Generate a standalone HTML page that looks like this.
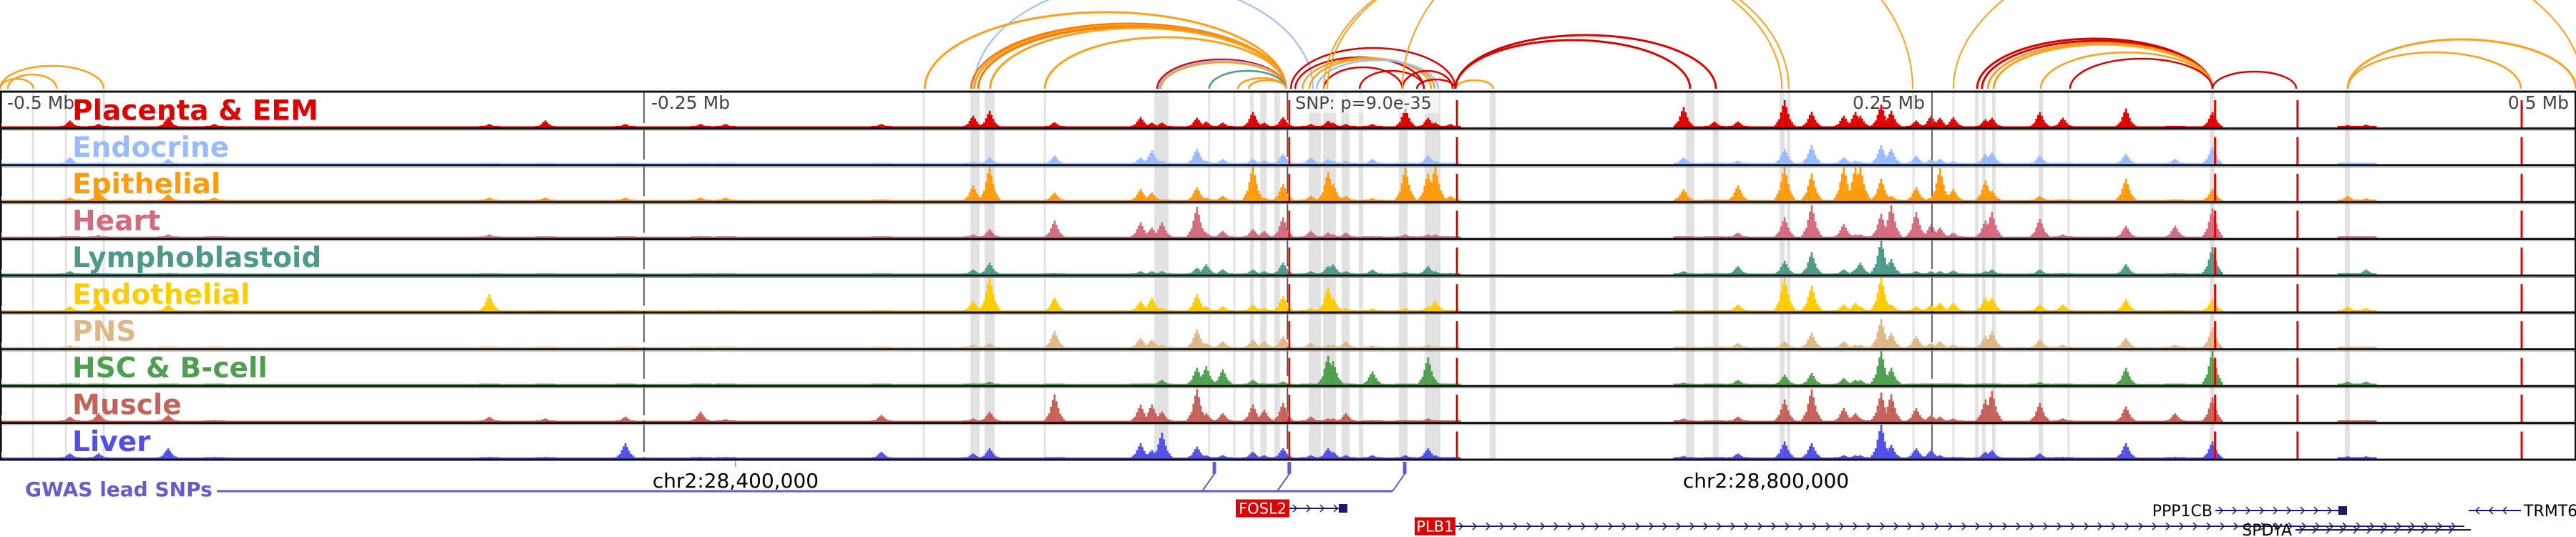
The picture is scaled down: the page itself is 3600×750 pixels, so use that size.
<!DOCTYPE html>
<html><head><meta charset="utf-8"><style>
html,body{margin:0;padding:0;background:#fff;width:3600px;height:750px;overflow:hidden}
svg text{font-family:"DejaVu Sans","Liberation Sans",sans-serif}
</style></head><body>
<svg id="fig" width="3600" height="750" viewBox="0 0 3600 750" xmlns="http://www.w3.org/2000/svg">
<g id="arcs"></g>
<g id="bands"></g>
<g id="tracks"></g>
<g id="frame"></g>
<g id="labels"></g>
<g id="bottom"></g>
</svg>
<script>
// ---- data ----
const trackNames = ["Placenta & EEM","Endocrine","Epithelial","Heart","Lymphoblastoid","Endothelial","PNS","HSC & B-cell","Muscle","Liver"];
const trackColors = ["#e00000","#99bbff","#ff9c0c","#d46a7e","#4e9a8a","#ffcc00","#deb887","#4f9f4f","#c4625a","#5050e8"];
const peakPos = [-472.8,-461.7,-434.7,-416.7,-310,-288.3,-257.2,-228,-218.3,-157.8,-122.2,-115.8,-90.6,-57.2,-52.8,-48.9,-35.3,-31.7,-25.3,-13.6,-9.2,-1.9,8.9,15.6,17.5,22.5,32.8,45.6,54.4,57.2,63.1,153.6,165.6,174.7,192.8,203.3,215.8,220.3,222.2,230.3,234.2,243.9,249.7,253.1,258.3,270.8,273.3,291.9,300.8,325.3,344.4,358.9,411.4,418.6];
const placenta = [2,1,3,1,1,2,1,1,1,1, 3.4,4.8,1.5,3,1.4,1.4,2.8,1.7,1.4,4.5,1.4,3,1,1.9,1.4,1,1,5.5,2.8,1.4,1, 5.9,1.7,1.7,7.9,4.5,3.4,4.5,3.4,6.6,4.8,2,3.4,2.8,3,2.4,2.8,4.5,2.8,5.5,0.3,4.5,0.7,0.8];
const endocrine = [2,0.5,1.5,0.5,0.5,0.3,0.5,0.3,0.3,0.3, 0.7,2,2.5,2,4,1,4.5,1,1.5,1.5,1,3,2,1.5,1,1,1.5,0.5,2.5,1,0.3, 2,0.5,1,4.5,5.5,2,1,0.7,5.5,4.5,2.5,1.5,1.5,0.8,3,3.5,2.5,0.5,3,1.5,5,0.3,0.3];
const epithelial = [1,3,2,1,1,1,1,1,1,0.5, 4.5,10,2.5,3.5,2.5,0.5,4,1,1.5,10,1,5,1.5,8.5,5,1.5,0.8,9.5,8,10,1.5, 3.5,0.5,4.5,10,8,10,10,10,6.5,1.5,4,1,9.5,3.5,6,3,1.5,0.5,6.5,0.5,3.5,1.5,0.8];
const heart = [0.5,0.8,1,0.5,1,0.5,0.5,0.5,0.5,0.3, 1,2.5,5,4.5,3,4.5,9,1.5,2,2.5,2,6,2,1.5,1,1.5,0.5,1,1,1,0.3, 0.5,0.3,1.5,6,9.5,4,1,1,7,9.5,7.5,4,3,1.5,5,7.5,5.5,1,3.5,3.5,8.5,0.5,0.3];
const lympho = [1,0.5,0.5,0.3,0.3,0.3,0.3,0.3,0.3,0.3, 1.5,3.5,0.5,1,1,1,2,3,1.5,1.5,1,3.5,1,2.5,3,1,1.5,0.8,2.5,1,0.5, 1,0.3,2.5,4,6.5,1.5,1.5,3.5,10,4.5,1,1,1,1.2,1,1.5,1.5,0.5,3,0.5,8,0.5,1.5];
const endothelial = [1.5,3,2,0.5,5,0.5,0.5,0.5,0.5,0.5, 3,10,4,3,4,1,5,1.5,1.5,2,1,4.5,1,7,4,1,0.8,1,1.5,3,0.5, 0.5,0.5,2,10,7.5,2,2.5,1.5,10,2,1.5,2,2.5,2.5,4,4,2,2,3.5,0.5,3.5,1.5,1];
const pns = [0.8,0.5,0.5,0.3,0.5,0.3,0.3,0.3,0.3,0.3, 1,1.5,5,3,2.5,1,5.5,1.5,2,2.5,2,3.5,1.5,1,1,2,0.8,0.3,1,0.5,0.2, 0.5,0.3,1.5,2,4.5,2,1,1,8.5,4.5,3.5,1.5,2,1,3.5,5,2.5,1,3,1,6,0.5,0.5];
const hsc = [0.5,0.3,0.3,0.3,0.3,0.3,0.3,0.3,0.3,0.3, 0.5,1,0.2,0.2,0.3,1.5,5,5.5,4.5,1.5,0.5,1,0.5,8.5,7,0.5,4,0.3,8,1,0.3, 0.7,0.2,1.5,3,3.5,2,1.5,1.5,10,5,0.3,0.3,0.3,0.3,0.3,0.3,0.8,0.2,5,0.2,10,1,1];
const muscle = [1.5,2.5,2,0.5,1.5,1,1.5,3,0.8,2, 1,3,8,5,5,3,9.5,2.5,2.5,5,3.5,5.5,1.5,1,1,2.5,0.5,0.5,1,0.5,0.2, 1,0.3,1.5,6.5,9.5,4,2.5,1,8.5,8,4,2,1.5,1,6.5,9,5.5,1,4.5,2.5,7,0.5,0.5];
const liver = [1.5,1.5,3,0.5,0.5,0.5,4.5,0.5,0.5,2, 1.5,3,0.3,4.5,2.5,7.5,3.5,1,1,2,1,3,1,3,2,1,1,1,3,1,0.3, 0.8,0.3,1.5,5,4.5,1,1,1,10,4,3,2.5,1,0.5,2,2.5,1.5,0.5,4.5,0.5,5,0.7,0.7];
const trackValues = [placenta,endocrine,epithelial,heart,lympho,endothelial,pns,hsc,muscle,liver];
const bandStart = [-487.6,-474.8,-460.1,-141.8,-123.3,-117.8,-94.8,-51.9,-31.0,-21.2,-14.7,-10.8,-5.3,8.1,13.6,20.8,27.5,43.1,53.1,78.3,154.4,165,190.8,193.6,242.4,257.9,266.7,269.4,273.3,291.4,302.6,357.8,410.3];
const bandEnd   = [-486.8,-474.0,-459.3,-141.0,-119.7,-113.9,-94.0,-46.4,-30.2,-20.4,-13.3,-8.3,-3.1,12.8,18.6,23.9,29.2,46.4,59.2,80.6,157.8,167.2,192.8,195,243.2,258.7,268.1,270.8,274.7,293.1,303.4,359.7,412.2];
const arcStart = [-122,-500,-500,-497,-141,-123,-121.7,-120.3,-115.6,-94.4,-50.8,-50,-49.4,-30.6,-19.4,-15.3,1.1,2.8,5.6,8.3,11.1,13.9,27.8,44.4,50,65,65,65,13.9,15.3,44.4,258.3,267.5,269.4,271.7,273.9,292.2,303.6,358.9,411.4,411.4];
const arcEnd   = [9.7,-459.7,-487,-478,-0.8,-0.8,-0.8,-0.8,-0.8,-0.8,-0.8,-0.8,-0.8,-0.8,-0.8,-0.8,65,52.8,55.6,56.9,58.3,44.4,52.8,63.9,65,79.7,156.1,166.1,191.7,194.4,242.5,502.8,358.9,358.9,358.9,358.9,358.9,358.9,391.4,500,478.6];
const arcScore = [150,32,14,20,107,91,89,87,85,72,41,39,37,25,15,12,57,44,43,42,40,30,25,25,13,12,68,75,200,202,260,230,70,67,64,62,51,42,24,69,51];
const arcKind  = [3,1,1,1,1,2,1,2,1,1,0,3,1,4,1,1,0,0,1,1,3,0,0,0,0,1,0,0,1,1,1,1,0,0,1,1,1,0,0,1,1];
const arcPalette = ["#dd0000","#ff9f1a","#ff7a00","#99bbff","#4e9a8a"];
const snpPos = [-28.6, 0.5, 45.3];
const dashedPos = [65.6, 359.9, 391.9, 478.9];
const axisTicks = [-500,-250,250,500];
const axisTickLabels = ["-0.5 Mb","-0.25 Mb","0.25 Mb","0.5 Mb"];

// ---- scales ----
const X = kb => 1800 + kb*3.6;
const TOP = 128, TH = 51.4, N = 10, BOT = TOP + TH*N;
const H = v => v*4.8;
const NS = "http://www.w3.org/2000/svg";
function mk(tag, attrs, parent){ const e=document.createElementNS(NS,tag); for(const k in attrs) e.setAttribute(k,attrs[k]); parent.appendChild(e); return e; }

// arcs
const arcsG = document.getElementById('arcs');
arcStart.forEach((s,i)=>{
  const x1=X(s), x2=X(arcEnd[i]), rx=(x2-x1)/2, ry=arcScore[i];
  const p = mk('path',{d:`M${x1} 124 A${rx} ${ry} 0 0 1 ${x2} 124`,fill:'none',stroke:arcPalette[arcKind[i]],'stroke-width': ry>140?2:(ry>60?3:2.5)},arcsG);
  
  
});

// bands
const bandsG = document.getElementById('bands');
bandStart.forEach((s,i)=>{
  const r = mk('rect',{x:X(s),y:TOP,width:Math.max(2.5,X(bandEnd[i])-X(s)),height:BOT-TOP,fill:'#e2e2e2'},bandsG);
  
  
});

// tracks
const tracksG = document.getElementById('tracks');
const shape = [0.1,0.2,0.3,0.55,0.8,1,0.75,0.5,0.3,0.2,0.1];
trackValues.forEach((vals,t)=>{
  const g = mk('g',{fill:trackColors[t]},tracksG);
  
  
  const base = TOP + t*TH + TH - 1.5;
  mk('rect',{x:X(-500),y:base-1.5,width:X(66)-X(-500),height:1.5},g);
  mk('rect',{x:X(150),y:base-1.5,width:X(360)-X(150),height:1.5},g);
  vals.forEach((v,i)=>{
    const cx = X(peakPos[i]);
    shape.forEach((f,j)=>{
      const h = Math.max(2, H(v)*f);
      const b = mk('rect',{x:cx+(j-5)*2.6-1.3,y:base-h,width:2.7,height:h},g);
      if(j===5){   }
    });
  });
});

// frame, axis lines
const fr = document.getElementById('frame');
axisTicks.forEach((k,i)=>{
  mk('line',{x1:X(k)+ (k===-500?2:0),y1:TOP,x2:X(k)+(k===-500?2:0),y2:BOT,stroke:'#666','stroke-width':2,'stroke-dasharray':'44 7'},fr);
});
mk('line',{x1:X(-0.2),y1:TOP,x2:X(-0.2),y2:BOT,stroke:'#555','stroke-width':2,'stroke-dasharray':'40 11'},fr);
mk('line',{x1:X(0.5),y1:TOP,x2:X(0.5),y2:BOT,stroke:'#e00','stroke-width':2.5,'stroke-dasharray':'40 11.4','stroke-dashoffset':'-12'},fr);
dashedPos.forEach(k=>{
  const l = mk('line',{x1:X(k),y1:TOP,x2:X(k),y2:BOT,stroke:'#e00','stroke-width':3,'stroke-dasharray':'38 13.4','stroke-dashoffset':'-12'},fr);
  
  
});
for(let t=0;t<=N;t++){
  const y = TOP + t*TH;
  mk('line',{x1:0,y1:y,x2:3600,y2:y,stroke:'#111','stroke-width':3},fr);
  if(t>0&&t<N) mk('line',{x1:0,y1:y+2.5,x2:3600,y2:y+2.5,stroke:'#999','stroke-width':1},fr);
}
mk('line',{x1:1,y1:TOP,x2:1,y2:BOT,stroke:'#111','stroke-width':2},fr);
mk('line',{x1:3599,y1:TOP,x2:3599,y2:BOT,stroke:'#111','stroke-width':2},fr);

// labels
const lab = document.getElementById('labels');
trackNames.forEach((n,t)=>{
  const tx = mk('text',{x:101,y:TOP+t*TH+TH-12,'font-size':39,'font-weight':'bold',fill:trackColors[t]},lab);
  tx.textContent = n;
  
  
});
axisTicks.forEach((k,i)=>{
  const neg = k<0;
  const tx = mk('text',{x:neg?X(k)+10:X(k)-10,y:152,'font-size':25,fill:'#444','text-anchor':neg?'start':'end'},lab);
  tx.textContent = axisTickLabels[i];
  
  
});
mk('rect',{x:1806,y:130,width:205,height:28,fill:'#ffffff','fill-opacity':0.6},lab);
const snpT = mk('text',{x:1810,y:152,'font-size':24,fill:'#444'},lab);
snpT.textContent = 'SNP: p=9.0e-35';



// bottom annotations
const bt = document.getElementById('bottom');
const purple = '#6a5acd';
const gw = mk('text',{x:35,y:693,'font-size':28,'font-weight':'bold',fill:purple},bt);
gw.textContent='GWAS lead SNPs';


mk('line',{x1:303,y1:686,x2:X(snpPos[2])-17,y2:686,stroke:purple,'stroke-width':3},bt);
snpPos.forEach(k=>{
  const x = X(k);
  const g = mk('g',{},bt);
  
  
  mk('line',{x1:x,y1:645,x2:x,y2:662,stroke:purple,'stroke-width':5},g);
  mk('line',{x1:x,y1:662,x2:x-17,y2:686,stroke:purple,'stroke-width':2},g);
});
mk('line',{x1:1028,y1:643,x2:1028,y2:652,stroke:'#555','stroke-width':1},bt);
const c1 = mk('text',{x:1028,y:681,'font-size':28,fill:'#000','text-anchor':'middle'},bt);
c1.textContent='chr2:28,400,000';


const c2 = mk('text',{x:2468,y:681,'font-size':28,fill:'#000','text-anchor':'middle'},bt);
c2.textContent='chr2:28,800,000';



const navy = '#1a1a6e';
function gene(name,x1,x2,y,opts){
  const g = mk('g',{},bt);
  
  
  mk('line',{x1:x1,y1:y,x2:x2,y2:y,stroke:navy,'stroke-width':2},g);
  const dir = opts.rev?-1:1;
  for(let x=x1+10; x<x2-8; x+=19){
    mk('path',{d:`M${x-5*dir} ${y-5} L${x} ${y} L${x-5*dir} ${y+5}`,fill:'none',stroke:navy,'stroke-width':1.5},g);
  }
  if(opts.box) mk('rect',{x:opts.box,y:y-6,width:12,height:12,fill:navy},g);
  if(opts.red){
    mk('rect',{x:opts.red[0],y:y-12.5,width:opts.red[1],height:25,fill:'#e00000'},g);
    const t = mk('text',{x:opts.red[0]+opts.red[1]/2,y:y+7.5,'font-size':21,fill:'#fff','text-anchor':'middle'},g);
    t.textContent=name;
  } else {
    const t = mk('text',{x:opts.tx,y:y+8,'font-size':22,fill:'#000','text-anchor':opts.anchor},g);
    t.textContent=name;
  }
}
gene('FOSL2',1802,1878,710,{red:[1727,75],box:1871});
gene('PLB1',2034,3444,735,{red:[1977,57]});
gene('PPP1CB',3096,3275,713,{tx:3092,anchor:'end',box:3268});
gene('SPDYA',3208,3453,740,{tx:3203,anchor:'end'});
gene('TRMT6',3450,3523,713,{tx:3527,anchor:'start',rev:true});
</script>
</body></html>
